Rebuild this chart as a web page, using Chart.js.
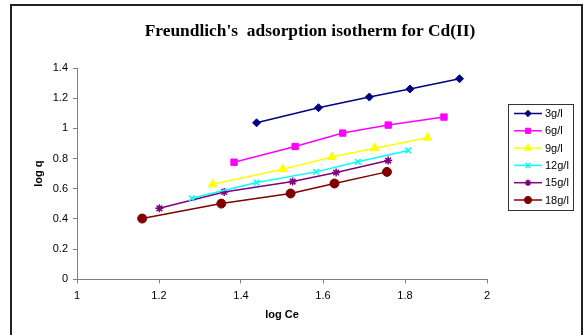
<!DOCTYPE html>
<html>
<head>
<meta charset="utf-8">
<script src="https://cdn.jsdelivr.net/npm/chart.js@4/dist/chart.umd.min.js"></script>
<style>
    html, body { margin: 0; padding: 0; background: #fff; }
    #wrap { position: relative; width: 586px; height: 335px; overflow: hidden; }
    #frame {
        position: absolute; left: 10px; top: 4px; width: 569px; height: 340px;
        border: 2px solid #222; pointer-events: none;
    }
    canvas { position: absolute; left: 0; top: 0; }
</style>
</head>
<body>
<div id="wrap">
    <canvas id="chart" width="586" height="335"></canvas>
    <div id="frame"></div>
</div>
<script>
// log Ce (x) and log q (y) per dose
const labels = ['3g/l', '6g/l', '9g/l', '12g/l', '15g/l', '18g/l'];
const logCe3 = [1.438, 1.589, 1.713, 1.812, 1.933];
const logQ3 = [1.037, 1.137, 1.208, 1.261, 1.329];
const logCe6 = [1.383, 1.532, 1.648, 1.759, 1.895];
const logQ6 = [0.776, 0.880, 0.969, 1.022, 1.075];
const logCe9 = [1.331, 1.502, 1.622, 1.726, 1.855];
const logQ9 = [0.630, 0.730, 0.810, 0.869, 0.938];
const logCe12 = [1.280, 1.438, 1.583, 1.685, 1.808];
const logQ12 = [0.537, 0.641, 0.712, 0.779, 0.854];
const logCe15 = [1.201, 1.359, 1.526, 1.632, 1.759];
const logQ15 = [0.471, 0.579, 0.648, 0.708, 0.787];
const logCe18 = [1.159, 1.352, 1.521, 1.628, 1.756];
const logQ18 = [0.403, 0.502, 0.569, 0.635, 0.712];

const xTicks = [1, 1.2, 1.4, 1.6, 1.8, 2];
const yTicks = [0, 0.2, 0.4, 0.6, 0.8, 1, 1.2, 1.4];

const colours = ['#000080', '#FF00FF', '#FFFF00', '#00FFFF', '#800080', '#800000'];
const markers = ['rectRot', 'rect', 'triangle', 'crossRot', 'star', 'circle'];
const markerSizes = [4, 4.5, 5, 4, 4, 4.5];

function pairs(xs, ys) {
    return xs.map((x, i) => ({x: x, y: ys[i]}));
}

const series = [
    pairs(logCe3, logQ3), pairs(logCe6, logQ6), pairs(logCe9, logQ9),
    pairs(logCe12, logQ12), pairs(logCe15, logQ15), pairs(logCe18, logQ18)
];

const datasets = series.map((data, i) => ({
    label: labels[i],
    data: data,
    showLine: true,
    borderColor: colours[i],
    backgroundColor: colours[i],
    borderWidth: 1.5,
    pointStyle: markers[i],
    pointRadius: markerSizes[i],
    pointBorderWidth: (markers[i] === 'crossRot' || markers[i] === 'star') ? 1.5 : 1,
    pointBorderColor: colours[i],
    pointBackgroundColor: colours[i]
}));

// title and boxed legend, drawn like the spreadsheet version
const decorPlugin = {
    id: 'decor',
    afterDraw(chart) {
        const ctx = chart.ctx;
        ctx.save();
        ctx.fillStyle = '#000';
        ctx.font = 'bold 17.4px "Liberation Serif", "Times New Roman", serif';
        ctx.textAlign = 'center';
        ctx.textBaseline = 'alphabetic';
        ctx.fillText("Freundlich's  adsorption isotherm for Cd(II)", 310, 35.5);

        // legend box
        const bx = 508.5, by = 104.5, bw = 65, bh = 106;
        ctx.strokeStyle = '#333';
        ctx.lineWidth = 1;
        ctx.strokeRect(bx, by, bw, bh);
        ctx.font = '11px "Liberation Sans", Arial, sans-serif';
        ctx.textAlign = 'left';
        ctx.textBaseline = 'middle';
        chart.data.datasets.forEach((ds, i) => {
            const cy = 113.5 + i * 17.3;
            ctx.strokeStyle = ds.borderColor;
            ctx.lineWidth = 1.5;
            ctx.beginPath();
            ctx.moveTo(514, cy);
            ctx.lineTo(542, cy);
            ctx.stroke();
            ctx.fillStyle = ds.backgroundColor;
            ctx.lineWidth = ds.pointBorderWidth;
            Chart.helpers.drawPoint(ctx, {
                pointStyle: ds.pointStyle,
                radius: ds.pointRadius * 0.8,
                borderWidth: ds.pointBorderWidth,
                rotation: 0
            }, 528, cy);
            ctx.fillStyle = '#000';
            ctx.fillText(ds.label, 545, cy + 0.5);
        });
        ctx.restore();
    }
};

const axisGrey = '#808080';
const tickFont = {family: '"Liberation Sans", Arial, sans-serif', size: 11};
const titleFont = {family: '"Liberation Sans", Arial, sans-serif', size: 11, weight: 'bold'};

let el = document.getElementById('chart');
let config = {
    type: 'scatter',
    data: {datasets: datasets},
    options: {
        responsive: false,
        animation: false,
        layout: {
            padding: {left: 28, right: 99, top: 68, bottom: 9}
        },
        plugins: {
            legend: {display: false},
            title: {display: false},
            tooltip: {enabled: false}
        },
        scales: {
            x: {
                type: 'linear',
                min: 1,
                max: 2,
                afterBuildTicks: scale => {
                    scale.ticks = xTicks.map(v => ({value: v}));
                },
                afterFit: scale => { scale.height = 46.6; },
                ticks: {
                    color: '#000',
                    font: tickFont,
                    padding: 6,
                    maxRotation: 0,
                    callback: v => String(v)
                },
                grid: {
                    drawOnChartArea: false,
                    drawTicks: true,
                    tickLength: 4,
                    color: axisGrey
                },
                border: {display: true, color: axisGrey, width: 1},
                title: {
                    display: true,
                    text: 'log Ce',
                    color: '#000',
                    font: titleFont,
                    padding: {top: 2, bottom: 4}
                }
            },
            y: {
                type: 'linear',
                min: 0,
                max: 1.4,
                afterBuildTicks: scale => {
                    scale.ticks = yTicks.map(v => ({value: v}));
                },
                afterFit: scale => { scale.width = 49; },
                ticks: {
                    color: '#000',
                    font: tickFont,
                    padding: 5,
                    callback: v => String(v)
                },
                grid: {
                    drawOnChartArea: false,
                    drawTicks: true,
                    tickLength: 4,
                    color: axisGrey
                },
                border: {display: true, color: axisGrey, width: 1},
                title: {
                    display: true,
                    text: 'log q',
                    color: '#000',
                    font: titleFont,
                    padding: {top: 4, bottom: 4}
                }
            }
        }
    },
    plugins: [decorPlugin]
};
let chart = new Chart(el, config);
</script>
</body>
</html>
